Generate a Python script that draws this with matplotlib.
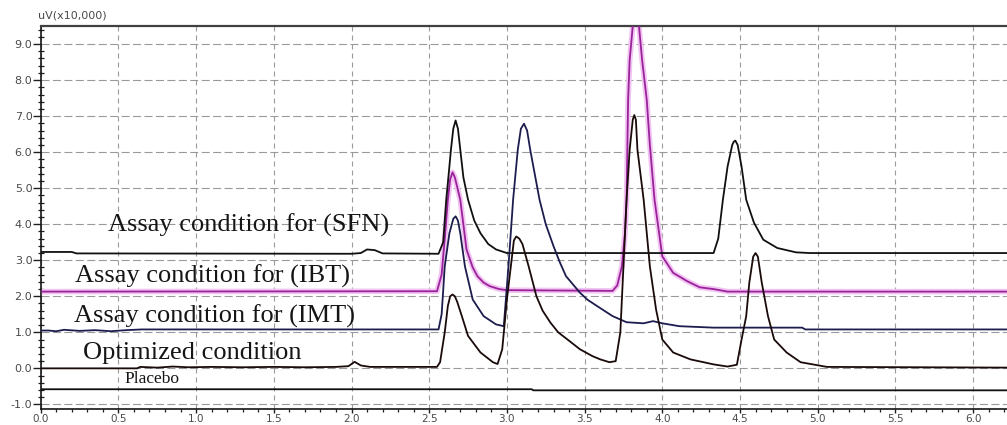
import matplotlib
matplotlib.use("Agg")
import matplotlib.pyplot as plt
from matplotlib.ticker import MultipleLocator, FormatStrFormatter

# ---- data (x = min, y = uV x10,000) ----
sfn_x = [0.00, 0.20, 0.23, 2.00, 2.06, 2.10, 2.15, 2.20, 2.56, 2.59, 2.61, 2.64, 2.655, 2.67, 2.685,
         2.70, 2.72, 2.75, 2.79, 2.83, 2.88, 2.93, 3.00, 4.33, 4.36, 4.39, 4.42, 4.45, 4.46, 4.47,
         4.485, 4.51, 4.54, 4.59, 4.65, 4.74, 4.86, 4.95, 6.25]
sfn_y = [3.23, 3.23, 3.19, 3.18, 3.20, 3.30, 3.28, 3.19, 3.18, 3.50, 4.68, 6.07, 6.65, 6.88, 6.65,
         6.07, 5.30, 4.68, 4.10, 3.75, 3.45, 3.30, 3.20, 3.20, 3.60, 4.68, 5.60, 6.20, 6.29, 6.32,
         6.20, 5.60, 4.68, 4.04, 3.57, 3.34, 3.22, 3.20, 3.20]

ibt_x = [0.00, 2.55, 2.58, 2.60, 2.62, 2.635, 2.65, 2.665, 2.70, 2.74, 2.78, 2.81, 2.85, 2.89, 2.95,
         3.00, 3.68, 3.71, 3.74, 3.76, 3.77, 3.78, 3.79, 3.81, 3.83, 3.85, 3.87, 3.90, 3.92, 3.95,
         4.00, 4.07, 4.16, 4.24, 4.33, 4.42, 6.25]
ibt_y = [2.13, 2.14, 2.60, 3.60, 4.68, 5.25, 5.44, 5.30, 4.68, 3.30, 2.80, 2.56, 2.38, 2.28, 2.20,
         2.17, 2.15, 2.30, 2.83, 3.75, 4.68, 7.45, 8.56, 9.50, 9.90, 9.50, 8.56, 7.45, 6.20, 4.68,
         3.11, 2.65, 2.42, 2.25, 2.20, 2.13, 2.13]

imt_x = [0.00, 0.05, 0.10, 0.15, 0.25, 0.35, 0.45, 0.55, 0.65, 2.56, 2.58, 2.60, 2.63, 2.655, 2.67,
         2.685, 2.70, 2.73, 2.78, 2.85, 2.93, 2.98, 3.01, 3.04, 3.07, 3.09, 3.11, 3.13, 3.15, 3.21,
         3.25, 3.30, 3.34, 3.38, 3.47, 3.52, 3.58, 3.68, 3.77, 3.88, 3.94, 4.00, 4.11, 4.33, 4.90,
         4.92, 6.25]
imt_y = [1.05, 1.05, 1.03, 1.07, 1.04, 1.06, 1.03, 1.06, 1.08, 1.08, 1.50, 2.83, 3.75, 4.15, 4.22,
         4.10, 3.75, 2.83, 1.91, 1.45, 1.22, 1.17, 2.83, 4.68, 6.07, 6.65, 6.79, 6.60, 6.07, 4.68,
         4.00, 3.39, 2.95, 2.56, 2.10, 1.90, 1.73, 1.45, 1.28, 1.25, 1.31, 1.25, 1.17, 1.13, 1.13,
         1.08, 1.08]

opt_x = [0.00, 0.62, 0.64, 0.75, 0.85, 0.95, 1.10, 1.30, 1.50, 1.70, 1.90, 1.98, 2.02, 2.06, 2.12,
         2.55, 2.57, 2.60, 2.62, 2.635, 2.65, 2.665, 2.68, 2.71, 2.75, 2.83, 2.91, 2.94, 2.97, 3.00,
         3.03, 3.045, 3.06, 3.08, 3.10, 3.14, 3.19, 3.23, 3.28, 3.33, 3.39, 3.47, 3.55, 3.60, 3.66,
         3.70, 3.73, 3.75, 3.77, 3.79, 3.81, 3.82, 3.83, 3.84, 3.88, 3.92, 3.96, 4.00, 4.07, 4.18,
         4.33, 4.42, 4.48, 4.51, 4.54, 4.56, 4.585, 4.60, 4.615, 4.64, 4.68, 4.72, 4.80, 4.89, 5.06,
         6.25]
opt_y = [0.00, 0.00, 0.04, 0.02, 0.05, 0.03, 0.04, 0.03, 0.04, 0.03, 0.04, 0.06, 0.18, 0.08, 0.04,
         0.04, 0.17, 1.00, 1.73, 2.00, 2.05, 2.00, 1.85, 1.45, 0.90, 0.44, 0.17, 0.12, 0.53, 1.91,
         3.00, 3.55, 3.66, 3.60, 3.45, 2.83, 2.00, 1.60, 1.27, 1.00, 0.80, 0.53, 0.34, 0.25, 0.17,
         0.20, 1.00, 2.83, 4.68, 6.07, 6.90, 7.03, 6.90, 6.07, 4.68, 2.83, 1.63, 0.80, 0.44, 0.25,
         0.11, 0.05, 0.10, 0.80, 1.45, 2.38, 3.10, 3.20, 3.10, 2.38, 1.45, 0.80, 0.44, 0.17, 0.04,
         0.02]

placebo_x = [0.00, 3.16, 3.17, 6.25]
placebo_y = [-0.58, -0.58, -0.61, -0.61]

labels = ["Assay condition for (SFN)", "Assay condition for (IBT)",
          "Assay condition for (IMT)", "Optimized condition", "Placebo"]
label_x = [0.43, 0.22, 0.215, 0.27, 0.54]
label_y = [3.80, 2.37, 1.27, 0.27, -0.40]

# ---- figure ----
W, H = 1007, 425
fig = plt.figure(figsize=(W / 100, H / 100), dpi=100)
ax = fig.add_axes([40.7 / W, (H - 408.7) / H, 1 - 40.7 / W, (408.7 - 25.7) / H])
ax.set_xlim(0, (W - 40.7) / 155.4)
ax.set_ylim(-1.12, 9.51)

# grid
ax.set_axisbelow(True)
ax.yaxis.grid(True, color="#9a9a9a", linewidth=0.8, linestyle=(0, (7.2, 3.1)))
ax.xaxis.grid(True, color="#9a9a9a", linewidth=0.8, linestyle=(0, (4.5, 3.6)))

lw = 1.3
ax.plot(ibt_x, ibt_y, color="#f2c4f2", linewidth=4.0, solid_joinstyle="round", zorder=2)
ax.plot(ibt_x, ibt_y, color="#9a229a", linewidth=lw, solid_joinstyle="round", zorder=3)
for xs, ys, c, z in [(sfn_x, sfn_y, "#101010", 4), (imt_x, imt_y, "#1c1c4e", 4),
                     (opt_x, opt_y, "#1a0a0a", 5), (placebo_x, placebo_y, "#101010", 4)]:
    ax.plot(xs, ys, color=c, linewidth=lw, solid_joinstyle="round", zorder=z)

sizes = [19, 19, 19, 19, 12.5]
for t, x, y, s in zip(labels, label_x, label_y, sizes):
    ax.text(x, y, t, fontsize=s, family="Liberation Serif", color="#151515",
            ha="left", va="baseline", zorder=6)

# ticks
ax.xaxis.set_major_locator(MultipleLocator(0.5))
ax.xaxis.set_minor_locator(MultipleLocator(0.1))
ax.yaxis.set_major_locator(MultipleLocator(1.0))
ax.yaxis.set_minor_locator(MultipleLocator(0.2))
ax.xaxis.set_major_formatter(FormatStrFormatter("%.1f"))
ax.yaxis.set_major_formatter(FormatStrFormatter("%.1f"))
ax.tick_params(axis="y", which="major", direction="out", length=5.5, width=1.0,
               pad=0.5, labelsize=8, labelcolor="#4a4a4a", color="#202020")
ax.tick_params(axis="y", which="minor", direction="inout", length=4, width=0.9, color="#202020")
ax.tick_params(axis="x", which="major", direction="out", length=3, width=1.0,
               pad=0.8, labelsize=7.5, labelcolor="#4a4a4a", color="#202020")
ax.tick_params(axis="x", which="minor", direction="out", length=2.5, width=0.9, color="#202020")

for s in ("left", "bottom"):
    ax.spines[s].set_color("#151515")
    ax.spines[s].set_linewidth(1.2)
ax.spines["top"].set_color("#404040")
ax.spines["top"].set_linewidth(1.6)
ax.spines["right"].set_visible(False)

fig.text(72 / W, 1 - 16 / H, "uV(x10,000)", fontsize=8, color="#4a4a4a",
         ha="center", va="center")

fig.savefig("out.png", dpi=100)
